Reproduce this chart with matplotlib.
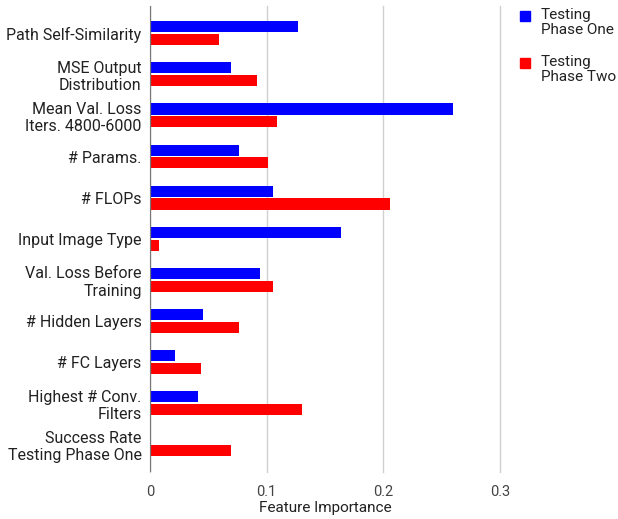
import matplotlib.pyplot as plt
from matplotlib.patches import Rectangle

plt.rcParams['font.family'] = ['Roboto', 'DejaVu Sans']

features = [
    "Path Self-Similarity",
    "MSE Output\nDistribution",
    "Mean Val. Loss\nIters. 4800-6000",
    "# Params.",
    "# FLOPs",
    "Input Image Type",
    "Val. Loss Before\nTraining",
    "# Hidden Layers",
    "# FC Layers",
    "Highest # Conv.\nFilters",
    "Success Rate\nTesting Phase One",
]
phase_one = [0.127, 0.069, 0.260, 0.076, 0.105, 0.164, 0.094, 0.045, 0.021, 0.041, 0.0]
phase_two = [0.059, 0.092, 0.109, 0.101, 0.206, 0.008, 0.105, 0.076, 0.044, 0.130, 0.069]
series_names = ["Testing\nPhase One", "Testing\nPhase Two"]
colors = ["#0000ff", "#ff0000"]
x_ticks = [0, 0.1, 0.2, 0.3]

fig = plt.figure(figsize=(6.18, 5.19), dpi=100)
ax = fig.add_axes([150 / 618, 1 - 472 / 519, 350 / 618, 466 / 519])

pos = list(range(len(features)))
h = 0.27
ax.barh([p - h / 2 - 0.02 for p in pos], phase_one, height=h, color=colors[0], zorder=3)
ax.barh([p + h / 2 + 0.02 for p in pos], phase_two, height=h, color=colors[1], zorder=3)

ax.set_ylim(10.67, -0.66)
ax.set_xlim(0, 0.3)
ax.set_yticks(pos)
ax.set_yticklabels(features, fontsize=11.5, color="#222222", linespacing=1.2)
ax.set_xticks(x_ticks)
ax.set_xticklabels([str(t) for t in x_ticks], fontsize=10.5, color="#444444")
ax.tick_params(length=0, pad=9)
ax.tick_params(axis='y', pad=6)
ax.set_xlabel("Feature Importance", fontsize=11, color="#222222", labelpad=2)

ax.grid(axis='x', color="#d0d0d0", linewidth=1, zorder=0)
for gl in ax.get_xgridlines():
    gl.set_clip_on(False)
for s in ax.spines.values():
    s.set_visible(False)
ax.axvline(0, color="#777777", linewidth=1.6, zorder=4)

# legend drawn by hand on the right side
for i, (name, c) in enumerate(zip(series_names, colors)):
    top = 11 + i * 47
    fig.patches.append(Rectangle((520 / 618, 1 - (top + 10) / 519), 10 / 618, 10 / 519,
                                 transform=fig.transFigure, color=c))
    fig.text(541 / 618, 1 - (top - 3) / 519, name, fontsize=11, color="#222222",
             va='top', ha='left', linespacing=1.1)

fig.savefig("out.png", dpi=100)
